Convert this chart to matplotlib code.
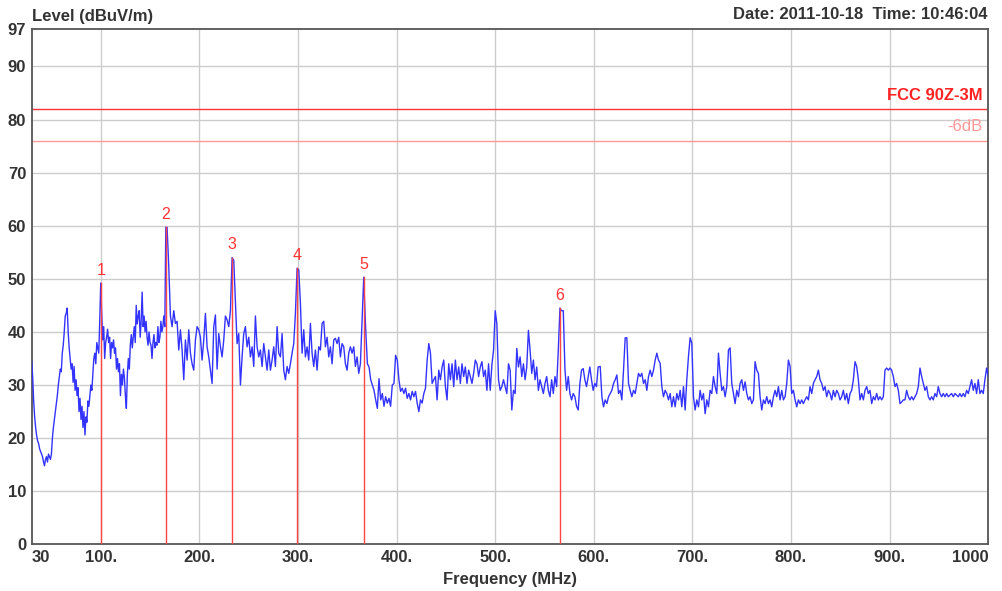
import numpy as np
import matplotlib
matplotlib.use('Agg')
import matplotlib.pyplot as plt

plt.rcParams['font.family'] = ['Liberation Sans', 'DejaVu Sans']

# Traço medido (dBuV/m), em quatro trechos de varredura
seg1_range = (30.0, 166.0)
seg1_level = [
    34.5, 31.5, 27, 24, 22, 20.5, 19.5, 19, 18, 17.5, 17, 16.5, 15.5, 14.8, 16, 16.5,
    15.5, 17, 16.5, 16, 17, 20, 22, 23.5, 25, 26.5, 28, 30, 31.5, 33, 32.5, 36, 37.5,
    40, 43, 43.5, 44.5, 40, 37, 35, 33, 34, 30.5, 33.5, 29, 31, 28, 29.5, 25, 27.5,
    23.5, 26, 22, 25, 20.6, 24, 23, 27, 26, 28, 30, 29, 32, 35, 36, 34, 38, 37, 36,
    42, 49.2,
    43.5, 38.5, 41, 35, 38, 39, 40.5, 38, 39, 35, 38, 37, 38.5, 36, 37, 33, 35, 32.5,
    34, 28, 32, 30, 33, 31.5, 28, 25.6, 32, 35, 33, 37.5, 39.5, 37, 39, 41, 38, 45,
    41.5, 43, 44, 39, 42, 47.5, 41, 43, 40, 42, 39, 37.5, 40, 38, 37.5, 35, 38, 39.5,
    37, 38, 37.5, 41, 38, 39, 42, 40, 41, 43, 41, 59.7,
]

seg2_range = (167.3, 368.4)
seg2_level = [
    59.7, 52.3, 43, 41, 44, 41.6, 42, 36.6, 40.4, 36.6, 31, 38.5, 34.7, 40.4, 36, 34,
    32.8, 38.5, 41, 40.4, 39, 34.7, 38.5, 43.5, 37.2, 35.3, 32.8, 30.3, 41, 43.2, 33,
    39.7, 37.2, 35.3, 38.5, 43, 42.3, 41, 44, 54.0, 53.5, 45.4, 37.8, 39.7, 30, 35.3,
    39.7, 41, 37.2, 39, 35.3, 37.2, 33.5, 43, 37.2, 35.3, 36.6, 33.5, 37.8, 35.3, 32.8,
    36.6, 32.8, 34.7, 37.2, 33.5, 41, 36, 35.3, 39.7, 32.8, 31, 33.5, 32.2, 34, 36,
    37.8, 43.5, 52.0, 51.7, 45.4, 36, 40.4, 35.3, 37.2, 34.7, 41.6, 36, 33.5, 36.6,
    32.8, 37.2, 36.6, 41.6, 42, 37.2, 39, 35.3, 37.2, 34, 38.5, 38.8, 37.8, 39, 35.3,
    37.8, 37.2, 34, 32.8, 36, 37.2, 36, 37.2, 33.5, 35.3, 32.2, 34, 42, 50.3, 41.6,
]

seg3_range = (370.4, 604.4)
seg3_level = [
    34, 33.4, 31, 30, 29, 27.2, 25.6, 31.2, 27.2, 28.4, 26, 27.8, 26.6, 27.5, 26, 30,
    30.3, 35.6, 34.7, 31, 28.8, 29.4, 28.4, 29.4, 27.5, 28.4, 27.2, 28.8, 27.8, 28.8,
    26.6, 25, 27.2, 26.6, 28.4, 29.4, 34.7, 37.8, 36, 30.3, 31, 31.6, 27.2, 32.8, 31,
    33.4, 34.7, 29.7, 27.2, 34, 31, 34, 29.7, 34.7, 31, 33.4, 30.3, 34, 31.6, 33.4,
    30.3, 32.8, 31.6, 30.3, 32.2, 34.7, 34, 31.6, 33.4, 34.4, 31.6, 32.8, 29, 34, 29,
    33.8, 36.6, 44, 41.5, 31, 29, 29.7, 31, 29.7, 28.4, 34, 32.8, 25.3, 29, 28.4, 36.9,
    33.4, 35.3, 31.6, 34, 31, 33.4, 40.3, 36.6, 32.2, 34.7, 31, 33.4, 29, 31, 29.7,
    28.4, 30.3, 31.6, 29, 27.8, 31, 28.4, 31.6, 29.7, 36.6, 44.5, 44, 44, 33, 29, 31.6,
    28.4, 27.2, 28.4, 27.8, 26, 25.3, 30.3, 32.8, 33.1, 31, 29.7, 31.6, 33.4, 31, 29,
    30.3, 29.7, 33.4,
]

seg4_range = (606.5, 1000.0)
seg4_level = [
    33.5, 27.8, 25.9, 27.2, 26.5, 27.8, 28.4, 29, 30.3, 31, 31.9, 28.4, 29, 27.2, 32.8,
    38.9, 38.9, 30.3, 29, 27.8, 29, 28.4, 30.3, 32.2, 31.6, 32.2, 30.3, 31, 29, 31.6,
    32.8, 31.6, 32.8, 34.7, 36, 34.7, 34.1, 29.7, 27.8, 29, 28.4, 27.2, 28.4, 25.9,
    27.8, 25.9, 28.4, 27.2, 29, 25.9, 29.7, 25.3, 31, 35.4, 38.9, 37.9, 27.8, 25.3,
    27.2, 25.9, 29, 27.2, 28.4, 24.6, 27.2, 25.9, 29, 28.4, 31.6, 29.7, 28.4, 36, 32.2,
    29, 29.7, 27.8, 29.7, 36.6, 37, 30.3, 28.4, 26.5, 29, 27.8, 30.3, 31, 29, 30.6,
    28.4, 27.2, 27.8, 26.5, 27.2, 34.4, 32.8, 32.2, 27.8, 25.3, 27.2, 26.5, 27.8, 26.5,
    27.2, 25.9, 27.8, 29, 27.8, 29.7, 27.2, 29, 27.2, 27.8, 30.3, 34.7, 33.5, 28.4, 29,
    27.2, 25.9, 27.2, 26.5, 27.2, 26.5, 27.2, 27.8, 27.2, 29.7, 28.4, 30.3, 31, 31.6,
    32.8, 31, 30.3, 29, 29.7, 27.8, 29, 28.4, 27.2, 29, 27.8, 29, 28.4, 27.2, 27.8, 29,
    27.2, 28.4, 26.5, 28.4, 29, 31, 34.4, 33.5, 31, 27.2, 28.4, 27.2, 29, 29.7, 28.4,
    29, 26.5, 27.8, 27.2, 28.4, 27.2, 27.8, 27.2, 27.8, 32.8, 33.2, 32.8, 33.2, 32.8,
    31.6, 29.7, 30.3, 29, 26.5, 26.8, 27.2, 27.2, 29, 27.8, 27.2, 27.8, 27.2, 27.8,
    28.4, 29.7, 33.2, 31.6, 30.3, 29, 29.7, 27.8, 27.2, 27.8, 27.2, 28.4, 27.8, 29.7,
    28.4, 27.8, 28.4, 27.8, 28.4, 27.8, 28.1, 28.4, 27.8, 28.4, 28.1, 27.8, 28.4, 27.8,
    28.4, 27.8, 29, 28.4, 29.7, 31, 29, 30.3, 28.4, 31, 28.4, 29, 28.4, 31, 33.2, 31.6,
]

# Marcadores de pico
marker_id = ['1', '2', '3', '4', '5', '6']
marker_freq = [100.0, 166.0, 233.2, 299.1, 366.7, 565.7]
marker_level = [49.2, 59.7, 54.0, 52.0, 50.3, 44.5]

# Linhas de limite
limit_name = 'FCC 90Z-3M'
limit_level = 82.0
margin_name = '-6dB'
margin_level = 76.0

x_ticks = [30, 100, 200, 300, 400, 500, 600, 700, 800, 900, 1000]
x_labels = ['30', '100.', '200.', '300.', '400.', '500.', '600.', '700.', '800.', '900.', '1000']
y_ticks = [0, 10, 20, 30, 40, 50, 60, 70, 80, 90, 97]

# Monta o traço completo
freq = []
level = []
for (f0, f1), lv in [(seg1_range, seg1_level), (seg2_range, seg2_level),
                     (seg3_range, seg3_level), (seg4_range, seg4_level)]:
    freq.extend(np.linspace(f0, f1, len(lv)))
    level.extend(lv)

fig = plt.figure(figsize=(10.03, 5.91), dpi=100)
ax = fig.add_axes([0.0316, 0.0790, 0.9537, 0.8714])
ax.set_xlim(30, 1000)
ax.set_ylim(0, 97)

# Grade
for gx in x_ticks[1:-1]:
    ax.axvline(gx, color='#cccccc', lw=1, zorder=0)
for gy in y_ticks[1:-1]:
    ax.axhline(gy, color='#cccccc', lw=1, zorder=0)

# Limite e margem
ax.axhline(limit_level, color='#ff3333', lw=1, zorder=2)
ax.axhline(margin_level, color='#ff9999', lw=1, zorder=2)
ax.text(994, limit_level + 1.2, limit_name, color='#ff2222', fontsize=12,
        fontweight='bold', ha='right', va='bottom')
ax.text(994, margin_level + 1.2, margin_name, color='#ff9999', fontsize=12,
        ha='right', va='bottom')

# Traço
ax.plot(freq, level, color='#3333ff', lw=1, zorder=3)

# Marcadores
for mid, mf, ml in zip(marker_id, marker_freq, marker_level):
    ax.plot([mf, mf], [0, ml], color='#ff4444', lw=1, zorder=4)
    ax.text(mf, ml + 1.0, mid, color='#ff3333', fontsize=11.5,
            ha='center', va='bottom', zorder=5)

ax.set_xticks(x_ticks)
ax.set_xticklabels(x_labels)
ax.set_yticks(y_ticks)
ax.tick_params(length=0, labelsize=12, colors='#333333', pad=4)
for lab in ax.get_xticklabels() + ax.get_yticklabels():
    lab.set_fontweight('bold')
xt = ax.get_xticklabels()
xt[0].set_horizontalalignment('left')
xt[-1].set_horizontalalignment('right')
ax.set_xlabel('Frequency (MHz)', fontsize=12, fontweight='bold', color='#333333', labelpad=5)

for sp in ax.spines.values():
    sp.set_color('#555555')
    sp.set_linewidth(1.3)

fig.text(0.032, 0.972, 'Level (dBuV/m)', fontsize=12, fontweight='bold',
         color='#333333', ha='left', va='center')
fig.text(0.985, 0.975, 'Date: 2011-10-18  Time: 10:46:04', fontsize=12,
         fontweight='bold', color='#333333', ha='right', va='center')

fig.savefig('out.png', dpi=100)
